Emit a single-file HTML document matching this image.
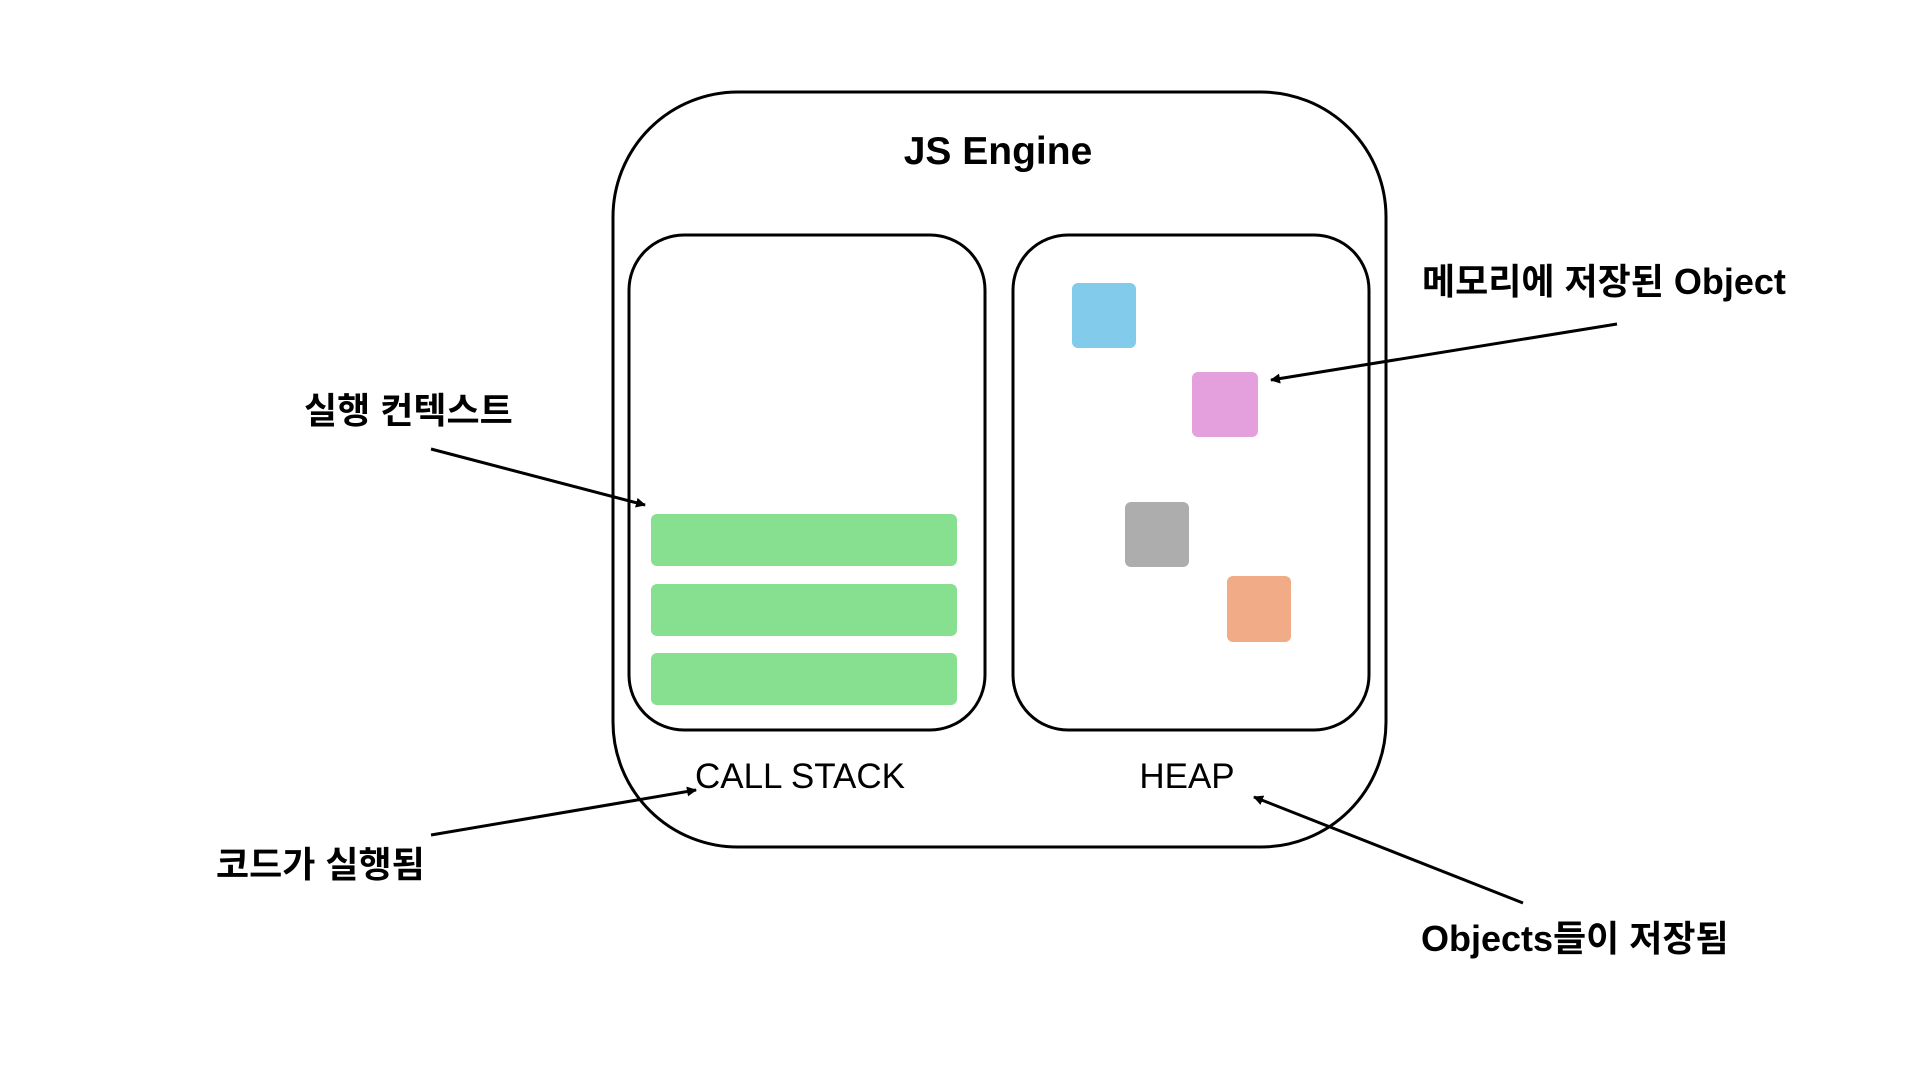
<!DOCTYPE html>
<html><head><meta charset="utf-8"><style>
html,body{margin:0;padding:0;background:#fff;}
svg text{font-family:"Liberation Sans","Noto Sans CJK KR",sans-serif;}
</style></head><body>
<svg width="1914" height="1076" viewBox="0 0 1914 1076" xmlns="http://www.w3.org/2000/svg">
<defs><marker id="a" markerWidth="10" markerHeight="10" refX="9" refY="5" orient="auto" markerUnits="userSpaceOnUse"><path d="M0,0 L10,5 L0,10 z" fill="#000"/></marker></defs>
<rect x="613" y="92" width="773" height="755" rx="125" ry="125" fill="#fff" stroke="#000" stroke-width="3"/>
<rect x="629" y="235" width="356" height="495" rx="55" fill="none" stroke="#000" stroke-width="3"/>
<rect x="1013" y="235" width="356" height="495" rx="55" fill="none" stroke="#000" stroke-width="3"/>
<rect x="651" y="514" width="306" height="52" rx="6" fill="#86e08f"/>
<rect x="651" y="584" width="306" height="52" rx="6" fill="#86e08f"/>
<rect x="651" y="653" width="306" height="52" rx="6" fill="#86e08f"/>
<rect x="1072" y="283" width="64" height="65" rx="6" fill="#83cbea"/>
<rect x="1192" y="372" width="66" height="65" rx="6" fill="#e3a0dc"/>
<rect x="1125" y="502" width="64" height="65" rx="6" fill="#adadad"/>
<rect x="1227" y="576" width="64" height="66" rx="6" fill="#f1ab86"/>
<text x="998" y="164" font-size="39" font-weight="bold" text-anchor="middle">JS Engine</text>
<text x="800" y="788" font-size="35" text-anchor="middle">CALL STACK</text>
<text x="1187" y="788" font-size="35" text-anchor="middle">HEAP</text>
<text x="304" y="423" font-size="36" font-weight="bold">실행 컨텍스트</text>
<text x="216" y="877" font-size="36" font-weight="bold">코드가 실행됨</text>
<text x="1422" y="294" font-size="36" font-weight="bold">메모리에 저장된 Object</text>
<text x="1421" y="951" font-size="36" font-weight="bold">Objects들이 저장됨</text>
<g stroke="#000" stroke-width="3" fill="none">
<line x1="431" y1="449" x2="645" y2="505" marker-end="url(#a)"/>
<line x1="431" y1="835" x2="696" y2="790" marker-end="url(#a)"/>
<line x1="1617" y1="324" x2="1271" y2="380" marker-end="url(#a)"/>
<line x1="1523" y1="903" x2="1254" y2="797" marker-end="url(#a)"/>
</g>
</svg>
</body></html>
